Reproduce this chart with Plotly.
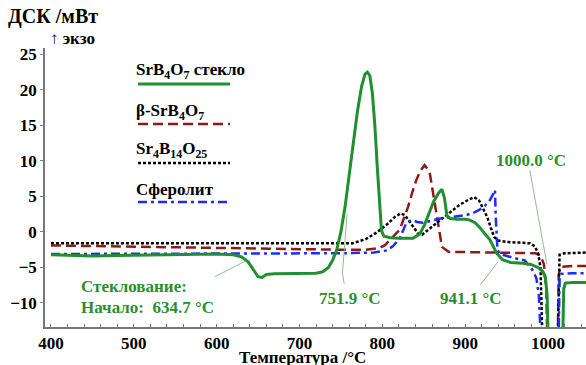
import plotly.graph_objects as go

# ---------------- data ----------------
glass_T = [400, 420, 450, 480, 520, 560, 600, 620, 630, 638, 645, 650, 655, 660, 670, 700, 720, 728, 735, 740,
           745, 750, 755, 760, 765, 770, 775, 779, 782, 785, 788, 791, 794, 797, 799, 802, 810, 820, 830, 837,
           845, 851, 857, 862, 868, 872, 875, 878, 882, 890, 900, 905, 912, 918, 924, 930, 938, 945, 955, 970,
           980, 988, 994, 997, 999, 1000, 1018, 1019, 1021, 1030, 1046]
glass_V = [-3.2, -3.3, -3.4, -3.3, -3.2, -3.1, -3.1, -3.2, -3.5, -4.2, -5.5, -6.3, -6.4, -6.0, -5.9, -5.9, -5.8, -5.6, -5.0, -4.0,
           -2.5, 0.0, 3.5, 8.0, 12.5, 17.0, 20.5, 22.2, 22.5, 22.0, 19.5, 15.0, 9.0, 3.0, 0.2, -0.6, -0.8, -0.9, -0.9, -0.9,
           -0.3, 1.0, 2.8, 4.3, 5.5, 6.0, 4.8, 2.3, 1.9, 1.8, 1.8, 1.7, 1.3, 0.6, -0.3, -1.1, -3.0, -3.9, -4.3, -4.4,
           -4.6, -5.0, -5.6, -6.5, -9.0, -14, -14, -8.0, -7.2, -7.1, -7.1]

beta_T = [400, 450, 500, 550, 600, 650, 700, 750, 780, 795, 803, 809, 815, 821, 826, 831, 836, 841, 846, 851,
          857, 863, 867, 872, 880, 920, 960, 985, 991, 995, 998, 999, 1012, 1013, 1015, 1030, 1046]
beta_V = [-1.9, -2.0, -2.1, -2.1, -2.2, -2.3, -2.4, -2.5, -2.5, -2.3, -1.9, -1.1, -0.4, 0.3, 1.8, 3.5, 5.5, 7.3, 8.6, 9.4,
          8.5, 4.5, 1.3, -2.1, -2.8, -2.9, -2.9, -3.0, -3.3, -4.5, -8.0, -14, -14, -6.0, -4.9, -4.8, -4.8]

sr4_T = [400, 500, 600, 700, 740, 764, 780, 793, 805, 815, 822, 827, 832, 837, 843, 848, 857, 868, 878, 893,
         905, 911, 917, 922, 927, 931, 935, 940, 950, 965, 978, 984, 988, 991, 993, 1012, 1013, 1014, 1020, 1046]
sr4_V = [-1.6, -1.6, -1.6, -1.7, -1.7, -1.6, -1.0, -0.1, 1.0, 2.1, 2.6, 2.4, 1.6, 0.7, -0.2, -0.4, 0.5, 1.5, 2.4, 3.8,
         4.6, 4.9, 4.4, 3.3, 2.0, 0.6, -0.7, -1.2, -1.4, -1.5, -1.6, -2.0, -3.0, -5.0, -14, -14, -5.0, -3.2, -3.0, -2.9]

sph_T = [400, 500, 600, 650, 700, 750, 790, 805, 813, 821, 829, 836, 842, 849, 860, 870, 878, 890, 902, 910,
         917, 924, 930, 935, 936, 937, 939, 942, 950, 960, 972, 981, 986, 989, 991, 1013, 1014, 1016, 1030, 1046]
sph_V = [-3.1, -3.1, -3.0, -3.0, -3.0, -3.0, -2.9, -2.6, -2.0, -0.9, 1.3, 1.7, 1.4, 1.3, 1.6, 1.9, 2.0, 2.2, 2.4, 2.7,
         3.1, 3.7, 4.5, 5.6, 5.9, 2.0, -2.5, -3.1, -3.4, -3.7, -4.0, -5.3, -6.5, -9.0, -14, -14, -6.5, -5.9, -5.8, -5.8]

series_names = ["SrB<sub>4</sub>O<sub>7</sub> стекло", "β-SrB<sub>4</sub>O<sub>7</sub>",
                "Sr<sub>4</sub>B<sub>14</sub>O<sub>25</sub>", "Сферолит"]
x_ticks = [400, 500, 600, 700, 800, 900, 1000]
y_ticks = [-10, -5, 0, 5, 10, 15, 20, 25]

# ---------------- styling ----------------
GREEN = "#1f8f2f"
RED = "#8c1a1a"
BLACK = "#000000"
BLUE = "#1a2cff"
TXTGREEN = "#2a8f2a"
LEAD = "#8cc08c"
FONT = "Liberation Serif"

styles = [
    (glass_T, glass_V, GREEN, "solid", 3),
    (beta_T, beta_V, RED, "10px,5px", 2.5),
    (sr4_T, sr4_V, BLACK, "3px,2px", 2.5),
    (sph_T, sph_V, BLUE, "9px,4px,3px,4px", 2.5),
]

fig = go.Figure()
order = [1, 2, 3, 0]
for i in order:
    T, V, c, dash, w = styles[i]
    fig.add_trace(go.Scatter(x=T, y=V, mode="lines", name=series_names[i],
                             line=dict(color=c, width=w, dash=dash), showlegend=False))

L, R, TOP, BOT = 45, 0, 48, 38
W, H = 586, 365
pw, ph = W - L - R, H - TOP - BOT

def px(x):
    return (x - L) / pw

def py(y):
    return (H - BOT - y) / ph

leg_text_y = [71, 112, 150, 189]
leg_line_y = [84, 124, 163, 202]
for k, i in enumerate([0, 1, 2, 3]):
    T, V, c, dash, w = styles[i]
    fig.add_annotation(x=px(134), y=py(leg_text_y[k]), xref="paper", yref="paper",
                       text="<b>" + series_names[i] + "</b>",
                       showarrow=False, xanchor="left", yanchor="middle",
                       font=dict(family=FONT, size=17, color="black"))
    fig.add_shape(type="line", xref="paper", yref="paper", x0=px(138), x1=px(230),
                  y0=py(leg_line_y[k]), y1=py(leg_line_y[k]), line=dict(color=c, width=w, dash=dash))

leaders = [
    (598, -6.3, 634.7, -4.1),
    (751.9, -5.8, 757.5, 2.5),
    (751.9, -5.8, 754.0, -7.3),
    (918, -7.5, 939.6, -4.2),
    (978, 8.7, 998.8, -4.6),
]
for x0, y0, x1, y1 in leaders:
    fig.add_shape(type="line", x0=x0, y0=y0, x1=x1, y1=y1, xref="x", yref="y",
                  line=dict(color=LEAD, width=1))

def gtext(x, y, s, anchor="center"):
    fig.add_annotation(x=x, y=y, text="<b>" + s + "</b>", showarrow=False, xanchor=anchor, yanchor="middle",
                       font=dict(family=FONT, size=17, color=TXTGREEN))

gtext(434, -7.7, "Стеклование:", "left")
gtext(434, -10.7, "Начало:  634.7 °C", "left")
gtext(761, -9.3, "751.9 °C")
gtext(907, -9.3, "941.1 °C")
gtext(979.5, 10.1, "1000.0 °C")

fig.add_annotation(x=px(6), y=py(17), xref="paper", yref="paper", text="<b>ДСК /мВт</b>", showarrow=False,
                   xanchor="left", yanchor="middle", font=dict(family=FONT, size=20, color="black"))
fig.add_annotation(x=px(48), y=py(38), xref="paper", yref="paper", text="<b>↑ экзо</b>", showarrow=False,
                   xanchor="left", yanchor="middle", font=dict(family=FONT, size=17, color="black"))
fig.add_annotation(x=px(302), y=py(357), xref="paper", yref="paper", text="<b>Температура /°C</b>", showarrow=False,
                   xanchor="center", yanchor="middle", font=dict(family=FONT, size=17, color="black"))

fig.update_layout(
    width=W, height=H, margin=dict(l=L, r=R, t=TOP, b=BOT),
    paper_bgcolor="white", plot_bgcolor="white",
    xaxis=dict(range=[392.8, 1045.9], tickvals=x_ticks, showgrid=False, zeroline=False, automargin=False,
               showline=True, linecolor="#777777", linewidth=1.5, ticks="inside", ticklen=3,
               tickcolor="#777777", minor=dict(dtick=20, tick0=400, ticks="inside", ticklen=3, tickcolor="#777777"),
               tickfont=dict(family=FONT, size=17, color="black", weight="bold")),
    yaxis=dict(range=[-13.38, 25.9], tickvals=y_ticks, showgrid=False, zeroline=False, automargin=False,
               showline=True, linecolor="#777777", linewidth=1.5, ticks="outside", ticklen=3,
               tickcolor="#777777",
               tickfont=dict(family=FONT, size=17, color="black", weight="bold")),
)

fig.write_html("out.html", config={"displayModeBar": False},
               post_script="document.body.style.margin='0';document.body.style.overflow='hidden';")
